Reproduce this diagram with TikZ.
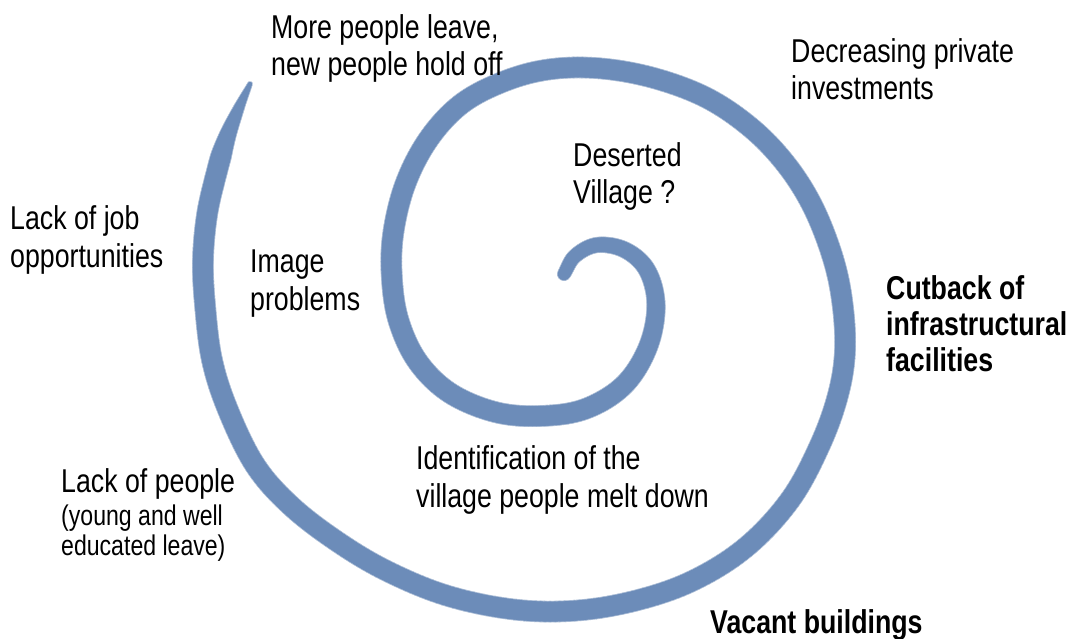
\documentclass[tikz,border=0pt]{standalone}
\usepackage{fontspec}
\setmainfont{Liberation Sans}[FakeStretch=0.81]
\definecolor{spiralblue}{RGB}{108,140,185}
\definecolor{spiralsoft}{RGB}{172,190,215}

% control points of the spiral centre line, outer tip first; the first and
% last entries are extra end points that only steer the end tangents
\def\spx{262,250,238,226,216,207,203,205,212,228,255,290,335,385,445,510,570,630,690,745,790,820,838,845,842,832,812,785,750,705,650,595,545,500,460,428,405,393,392,399,418,450,495,540,585,624,648,656,647,625,597,575,564,553}
\def\spy{58,84,110,140,175,215,260,305,360,410,465,505,540,570,595,609,611,602,582,548,500,445,395,350,300,255,205,163,127,97,77,68,70,83,105,140,185,235,280,322,362,393,412,416,409,385,347,305,270,250,245,256,274,292}
% Catmull-Rom interpolation between #2 and #3 at parameter #5
\def\crom#1#2#3#4#5{0.5*(2*(#2)+(-(#1)+(#3))*(#5)+(2*(#1)-5*(#2)+4*(#3)-(#4))*(#5)^2+(-(#1)+3*(#2)-3*(#3)+(#4))*(#5)^3)}
% one pass along the spiral; #1 = extra width, #2 = colour
\newcommand\spiralpass[2]{%
  \foreach \k in {1,...,51} {
    \pgfmathsetmacro\xa{{\spx}[\k-1]}\pgfmathsetmacro\ya{{\spy}[\k-1]}
    \pgfmathsetmacro\xb{{\spx}[\k]}\pgfmathsetmacro\yb{{\spy}[\k]}
    \pgfmathsetmacro\xc{{\spx}[\k+1]}\pgfmathsetmacro\yc{{\spy}[\k+1]}
    \pgfmathsetmacro\xd{{\spx}[\k+2]}\pgfmathsetmacro\yd{{\spy}[\k+2]}
    \foreach \j in {1,...,12} {
      \pgfmathsetmacro\ts{(\j-1)/12}
      \pgfmathsetmacro\te{\j/12}
      \pgfmathsetmacro\px{\crom{\xa}{\xb}{\xc}{\xd}{\ts}}
      \pgfmathsetmacro\py{\crom{\ya}{\yb}{\yc}{\yd}{\ts}}
      \pgfmathsetmacro\qx{\crom{\xa}{\xb}{\xc}{\xd}{\te}}
      \pgfmathsetmacro\qy{\crom{\ya}{\yb}{\yc}{\yd}{\te}}
      \pgfmathsetmacro\uu{\k-1+(\j-0.5)/12}
      \pgfmathsetmacro\ww{#1+2*min(min(2+3.2*\uu, 6.2+0.5*(51-\uu)), 10)}
      \draw[draw=#2, line cap=round, line width=\ww pt] (\px,\py) -- (\qx,\qy);
    }
  }}

\begin{document}
\begin{tikzpicture}[x=1pt,y=-1pt,
  % multi-line labels are placed by the baseline of their last line
  txt/.style={anchor=base west, inner sep=0pt, align=left,
    font=\fontsize{33}{37.5}\selectfont},
  smalltxt/.style={anchor=base west, inner sep=0pt, align=left,
    font=\fontsize{28.5}{30}\selectfont},
  boldtxt/.style={anchor=base west, inner sep=0pt, align=left,
    font=\fontsize{33}{36}\selectfont\bfseries}]
\useasboundingbox (0,0) rectangle (1075,639);
\fill[white] (0,0) rectangle (1075,639);

% the spiral: short pieces whose width grows from the outer tip,
% stays even, and narrows again into the inner curl; a slightly wider
% pale pass underneath softens its edges
\spiralpass{1.6}{spiralsoft}
\spiralpass{0}{spiralblue}

% labels along the spiral
\node[txt] (leave) at (271,76) {More people leave,\\new people hold off};
\node[txt] (invest) at (791,100) {Decreasing private\\investments};
\node[txt] (deserted) at (573,204) {Deserted\\Village ?};
\node[txt] (jobs) at (10,267) {Lack of job\\opportunities};
\node[txt] (image) at (250,310) {Image\\problems};
\node[boldtxt] (cutback) at (886,371) {Cutback of\\infrastructural\\facilities};
\node[txt] (ident) at (416,507) {Identification of the\\village people melt down};
\node[txt] (people) at (61,492) {Lack of people};
\node[smalltxt] (young) at (61,555) {(young and well\\educated leave)};
\node[boldtxt] (vacant) at (710,633) {Vacant buildings};
\end{tikzpicture}
\end{document}
